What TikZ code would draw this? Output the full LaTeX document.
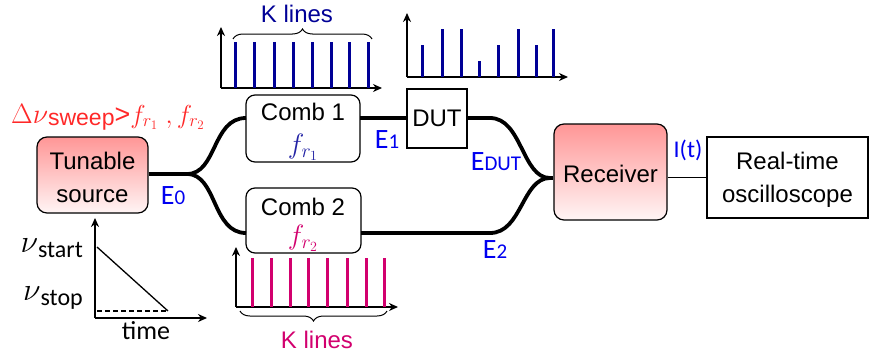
\RequirePackage{fix-cm}
\documentclass[tikz,border=0pt]{standalone}
\usepackage{fontspec}
\setmainfont{Liberation Sans}
\newfontfamily\calib{Carlito}
\usetikzlibrary{arrows.meta,decorations.pathreplacing}
\definecolor{eblue}{RGB}{0,0,240}
\definecolor{navy}{RGB}{0,0,150}
\definecolor{fblue}{RGB}{35,35,165}
\definecolor{mag}{RGB}{210,0,110}
\definecolor{pinktop}{RGB}{255,150,150}
\definecolor{pinkbot}{RGB}{255,245,245}
\definecolor{redtxt}{RGB}{255,40,40}
\begin{document}
\begin{tikzpicture}[x=1pt,y=-1pt,
  shadedbox/.style={draw,line width=1.2pt,rounded corners=10pt,top color=pinktop,bottom color=pinkbot,inner sep=0},
  combbox/.style={draw,line width=1.2pt,rounded corners=9pt,fill=white,inner sep=0},
  plainbox/.style={draw,line width=1.2pt,fill=white,inner sep=0},
  lbl/.style={anchor=base,inner sep=0,font=\fontsize{24}{26}\selectfont},
  elbl/.style={anchor=base,inner sep=0,text=eblue},
  fiber/.style={line width=3.8pt},
  axis/.style={line width=1.5pt,-{Stealth[length=9pt,width=8pt]}},
  bline/.style={navy,line width=3pt},
  mline/.style={mag,line width=3pt},
  brc/.style={line width=1pt,decorate,decoration={brace,amplitude=10pt}}
]
\useasboundingbox (0,0) rectangle (873,356);
\newcommand{\Esub}[1]{{\calib\fontsize{28}{30}\selectfont E\fontsize{21}{22}\selectfont #1}}

% boxes
\node[shadedbox,minimum width=111pt,minimum height=76pt] (src) at (92.5,175) {};
\node[combbox,minimum width=114pt,minimum height=67pt] (comb1) at (303,128.5) {};
\node[combbox,minimum width=115pt,minimum height=65pt] (comb2) at (303.5,220.5) {};
\node[plainbox,minimum width=60pt,minimum height=59pt] (dut) at (437,118.5) {};
\node[shadedbox,minimum width=113pt,minimum height=96pt] (rcv) at (610.5,172) {};
\node[plainbox,minimum width=161pt,minimum height=81pt] (osc) at (787.5,177.5) {};

% box texts
\node[lbl] (t1) at (92.5,169) {Tunable};
\node[lbl] (t2) at (92.5,202) {source};
\node[lbl] (c1) at (303,120) {Comb 1};
\node[inner sep=0,text=fblue,font=\fontsize{28}{30}\selectfont] (f1) at (303,147) {$f_{r_1}$};
\node[lbl] (c2) at (303,215) {Comb 2};
\node[inner sep=0,text=mag,font=\fontsize{28}{30}\selectfont] (f2) at (303,238) {$f_{r_2}$};
\node[lbl] (dt) at (437,126) {DUT};
\node[lbl] (rt) at (610.5,182) {Receiver};
\node[lbl] (o1) at (787.5,169) {Real-time};
\node[lbl] (o2) at (787.5,202) {oscilloscope};

% fibers
\coordinate (split) at (187,174);
\coordinate (c1in) at (246,118);
\coordinate (c1out) at (360,118);
\coordinate (c2in) at (246,233);
\coordinate (c2out) at (361,233);
\coordinate (top2) at (490,118);
\coordinate (bot2) at (490,233);
\coordinate (join) at (550,178);
\draw[fiber] (src.east |- split) -- (split);
\draw[fiber] (split) .. controls (217,174) and (212,118) .. (c1in);
\draw[fiber] (split) .. controls (217,174) and (212,233) .. (c2in);
\draw[fiber] (c1out) -- (dut.west |- c1out);
\draw[fiber] (dut.east |- c1out) -- (top2) .. controls (522,118) and (522,178) .. (join);
\draw[fiber] (c2out) -- (bot2) .. controls (522,233) and (522,178) .. (join);
\draw[fiber] (join) -- (rcv.west |- join);
\draw[line width=1.2pt] (rcv.east |- osc.west) -- (osc.west);

% E labels
\node[elbl] (e0) at (173,204) {\Esub{0}};
\node[elbl] (e1) at (387,148) {\Esub{1}};
\node[elbl] (edut) at (496,170) {\Esub{DUT}};
\node[elbl] (e2) at (495,258) {\Esub{2}};
\node[elbl,font=\calib\fontsize{24}{26}\selectfont] (it) at (688,157) {I(t)};

% sweep label
\node[anchor=base,inner sep=0,text=redtxt] (sw) at (108,123)
  {\fontsize{28}{30}\selectfont$\Delta\nu$\raisebox{-2pt}{\fontsize{23}{24}\selectfont sweep}\fontsize{27}{28}\selectfont >\fontsize{26}{28}\selectfont$f_{r_1}\ ,f_{r_2}$};

% spectrum 1 (comb 1)
\coordinate (s1o) at (221,88);
\draw[axis] (s1o) -- (221,27);
\draw[axis] (s1o) -- (382,88);
\foreach \x in {235,254,274,293,312,331,349,368} \draw[bline] (\x,42) -- (\x,88);
\coordinate (b1a) at (233,39);
\coordinate (b1b) at (372,39);
\draw[brc] (b1a) -- (b1b);
\node[lbl,text=navy] (k1) at (297,22) {K lines};

% spectrum 2 (after DUT)
\coordinate (s2o) at (407,77);
\draw[axis] (s2o) -- (407,13);
\draw[axis] (s2o) -- (568,77);
\foreach \x/\t in {422/45,442/29,461/29,479/61,498/45,518/29,536/45,553/29} \draw[bline] (\x,\t) -- (\x,77);

% spectrum 3 (comb 2)
\coordinate (s3o) at (236,307);
\draw[axis] (s3o) -- (236,247);
\draw[axis] (s3o) -- (398,307);
\foreach \x in {252,271,290,308,327,347,366,384} \draw[mline] (\x,258) -- (\x,307);
\coordinate (b3a) at (387,311);
\coordinate (b3b) at (240,311);
\draw[brc] (b3a) -- (b3b);
\node[lbl,text=mag] (k3) at (317,348) {K lines};

% chirp plot
\coordinate (co) at (95,318);
\draw[axis] (co) -- (95,218);
\draw[axis] (co) -- (207,318);
\coordinate (cs) at (97,247);
\coordinate (ce) at (168,311);
\coordinate (cd) at (97,311);
\draw[line width=1.3pt] (cs) -- (ce);
\draw[line width=1.3pt,dashed,dash pattern=on 5pt off 3pt] (cd) -- (ce);
\node[anchor=base east,inner sep=0] (nst) at (83,252) {\fontsize{32}{32}\selectfont$\nu$\raisebox{-5pt}{\calib\fontsize{24}{26}\selectfont start}};
\node[anchor=base east,inner sep=0] (nsp) at (83,300) {\fontsize{32}{32}\selectfont$\nu$\raisebox{-5pt}{\calib\fontsize{24}{26}\selectfont stop}};
\node[anchor=base,inner sep=0,font=\calib\fontsize{26}{28}\selectfont] (tm) at (146,339) {time};
\end{tikzpicture}
\end{document}
